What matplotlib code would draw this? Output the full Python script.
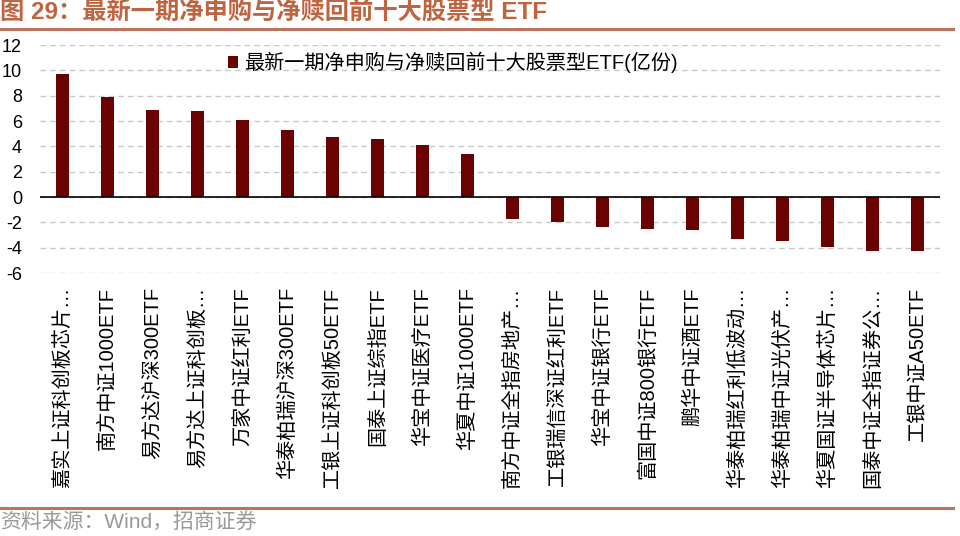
import numpy as np
import matplotlib
matplotlib.use("Agg")
import matplotlib.pyplot as plt

plt.rcParams['font.family'] = ['Liberation Sans', 'Noto Sans CJK SC', 'DejaVu Sans']

# data (亿份)
names = ['嘉实上证科创板芯片…', '南方中证1000ETF', '易方达沪深300ETF', '易方达上证科创板…',
         '万家中证红利ETF', '华泰柏瑞沪深300ETF', '工银上证科创板50ETF', '国泰上证综指ETF',
         '华宝中证医疗ETF', '华夏中证1000ETF', '南方中证全指房地产…', '工银瑞信深证红利ETF',
         '华宝中证银行ETF', '富国中证800银行ETF', '鹏华中证酒ETF', '华泰柏瑞红利低波动…',
         '华泰柏瑞中证光伏产…', '华夏国证半导体芯片…', '国泰中证全指证券公…', '工银中证A50ETF']
flows = [9.74, 7.86, 6.88, 6.78, 6.06, 5.32, 4.77, 4.61, 4.08, 3.41,
         -1.76, -1.95, -2.35, -2.54, -2.64, -3.28, -3.47, -3.98, -4.3, -4.28]
yticks = [12, 10, 8, 6, 4, 2, 0, -2, -4, -6]

legend_name = '最新一期净申购与净赎回前十大股票型ETF(亿份)'
title = '图 29：最新一期净申购与净赎回前十大股票型 ETF'
source = '资料来源：Wind，招商证券'

bar_col = '#6B0202'
brown = '#B9735F'

fig = plt.figure(figsize=(9.6, 5.36), dpi=100)
ax = fig.add_axes([40/960, 1-273/536, 900/960, 228/536])

x = np.arange(len(names))
ax.bar(x, flows, width=0.31, color=bar_col, label=legend_name, zorder=3)
ax.axhline(0, color='black', lw=1.2, zorder=4)

ax.set_xlim(-0.5, len(names) - 0.5)
ax.set_ylim(-6, 12)
ax.set_yticks(yticks)
ax.set_yticklabels([str(v) for v in yticks], fontsize=13)
ax.yaxis.grid(True, ls=(0, (4, 3)), color='#C8C8C8', lw=1)
ax.set_axisbelow(True)
ax.tick_params(axis='y', length=0, pad=13)
ax.tick_params(axis='x', length=0, pad=10)
ax.set_xticks(x)
ax.set_xticklabels(names, rotation=90, fontsize=14.5, va='top', ha='center')
for s in ax.spines.values():
    s.set_visible(False)

leg = ax.legend(loc='upper left', bbox_to_anchor=(0.2, 1.005), frameon=False,
                fontsize=14.5, handlelength=0.5, handleheight=0.5, handletextpad=0.3,
                borderaxespad=0)

# title, rules, source
fig.text(0.0, 1 - 13/536, title, fontsize=17.5, fontweight='bold', color='#BF6440',
         va='center', ha='left')
fig.add_artist(plt.Line2D([0, 953/960], [1 - 28.5/536] * 2, color=brown, lw=2.2))
fig.add_artist(plt.Line2D([0, 953/960], [1 - 508/536] * 2, color=brown, lw=2.2))
fig.text(0.0, 1 - 522/536, source, fontsize=15, color='#999999', va='center', ha='left')

fig.savefig('out.png', dpi=100)
